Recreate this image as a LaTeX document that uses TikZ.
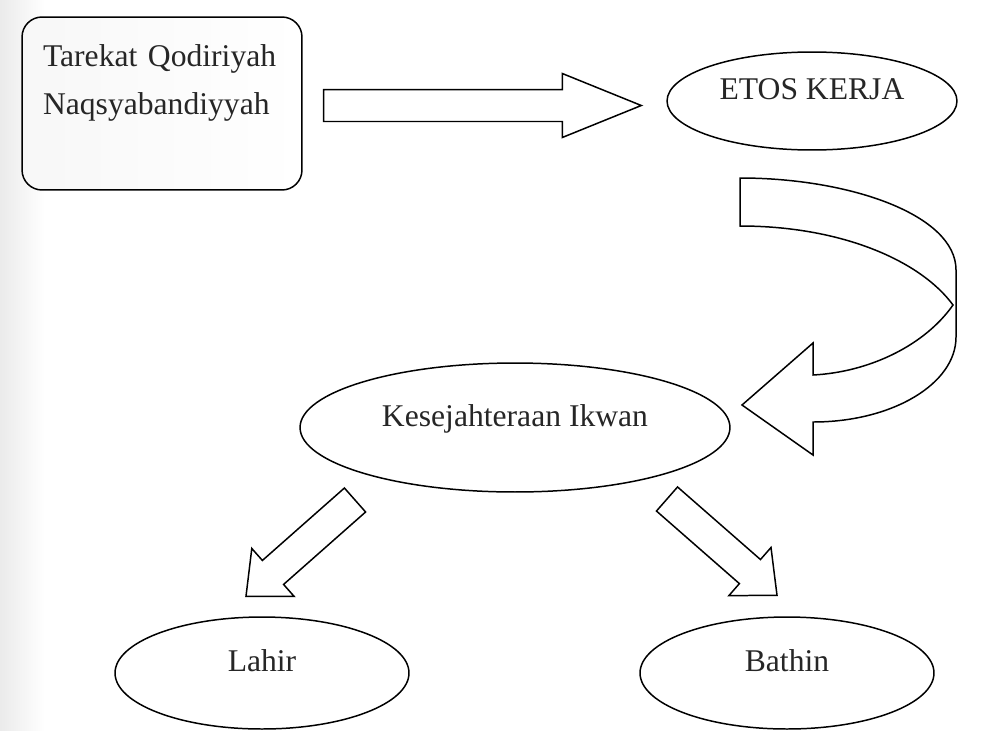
\documentclass[tikz,border=0pt]{standalone}
\usepackage{fontspec}
\setmainfont{Liberation Serif}
\usetikzlibrary{shapes.geometric,calc}

% block arrow from #2 to #3, #1 = head length
\newcommand{\blockarrow}[3][1.58cm]{%
  \coordinate (hb) at ($(#3)!#1!(#2)$);
  \draw[blockarr] ($(#2)!0.32cm!90:(#3)$) -- ($(hb)!0.32cm!90:(#3)$)
    -- ($(hb)!0.64cm!90:(#3)$) -- (#3) -- ($(hb)!0.64cm!-90:(#3)$)
    -- ($(hb)!0.32cm!-90:(#3)$) -- ($(#2)!0.32cm!-90:(#3)$) -- cycle;}

\begin{document}
\begin{tikzpicture}[x=0.02cm, y=-0.02cm,
  every node/.style={font=\fontsize{18}{27.3}\selectfont, text=black!85},
  oval/.style={draw, line width=.85pt, ellipse, inner sep=0pt, text height=.45cm, text depth=.5cm},
  blockarr/.style={draw, line width=.85pt, fill=white, line join=miter}]
      \useasboundingbox (0,0) rectangle (982,730);
      % scanner shade on the left edge
      \shade[left color=black!8, right color=white] (0,0) rectangle (45,730);
      \node[draw, line width=.85pt, rounded corners=0.4cm, align=left, text width=4.76cm, inner xsep=0.42cm, minimum height=3.46cm, left color=black!3, right color=white] (tarekat) at (162,103.5) {Tarekat Qodiriyah\\Naqsyabandiyyah\\\mbox{}};
      \node[oval, minimum width=5.8cm, minimum height=1.96cm] (etos) at (812,101) {ETOS KERJA};
      \node[oval, minimum width=8.6cm, minimum height=2.58cm] (kes) at (515,427.5) {Kesejahteraan Ikwan};
      \node[oval, minimum width=5.88cm, minimum height=2.24cm] (lahir) at (262,673) {Lahir};
      \node[oval, minimum width=5.88cm, minimum height=2.24cm] (bathin) at (787,673) {Bathin};
      % arrows
      \coordinate (a1s) at ($(tarekat.east)+(21,2)$);
      \coordinate (a1e) at ($(a1s -| etos.west)+(-25,0)$);
      \blockarrow{a1s}{a1e}
      \draw[blockarr] (740,178) .. controls (850,178) and (956,215) .. (956,270) -- (956,337)
        .. controls (956,384) and (892,422) .. (813,422) -- (813,455) -- (742,405) -- (813,343) -- (813,375)
        .. controls (870,372) and (925,345) .. (953,305)
        .. controls (920,260) and (840,226) .. (740,226) -- cycle;
      \coordinate (a2s) at ($(kes.center)+(-160,72.5)$);
      \coordinate (a2e) at ($(lahir.north)+(-16,-20)$);
      \blockarrow[0.72cm]{a2s}{a2e}
      \coordinate (a3s) at ($(kes.center)+(152,71.5)$);
      \coordinate (a3e) at ($(bathin.north)+(-10,-21)$);
      \blockarrow[0.72cm]{a3s}{a3e}
\end{tikzpicture}
\end{document}
